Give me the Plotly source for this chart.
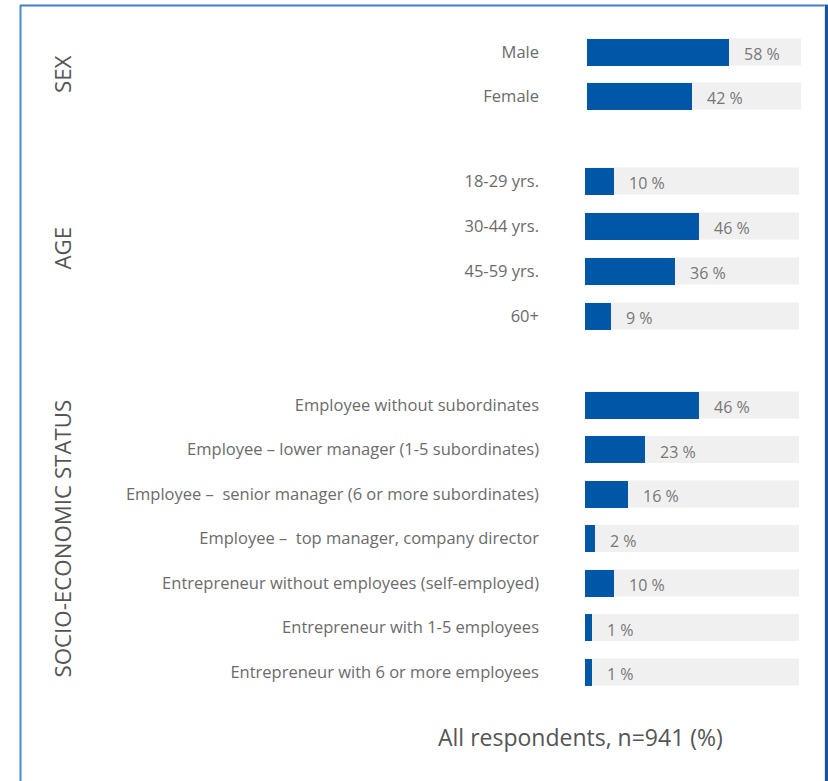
import plotly.graph_objects as go

W, H = 828, 781

sex_labels = ["Male", "Female"]
sex_values = [58, 42]

age_labels = ["18-29 yrs.", "30-44 yrs.", "45-59 yrs.", "60+"]
age_values = [10, 46, 36, 9]

status_labels = [
    "Employee without subordinates",
    "Employee – lower manager (1-5 subordinates)",
    "Employee –  senior manager (6 or more subordinates)",
    "Employee –  top manager, company director",
    "Entrepreneur without employees (self-employed)",
    "Entrepreneur with 1-5 employees",
    "Entrepreneur with 6 or more employees",
]
status_values = [46, 23, 16, 2, 10, 1, 1]

group_titles = ["SEX", "AGE", "SOCIO-ECONOMIC STATUS"]
footer_text = "All respondents, n=941 (%)"

BAR = "#0057a8"
BG = "#f0f0f0"
TXT = "#6b6b6b"
FONT = "Open Sans"
PXPER = 2.37     # pixels per percent
LEAD_PX = 5.0    # minimum visible bar stub, in pixels


def py(p):
    return 1 - p / H


def px(p):
    return p / W


groups = [
    (sex_labels, sex_values, 30, 118, 587, 801),
    (age_labels, age_values, 158.5, 338.5, 585, 799),
    (status_labels, status_values, 382.75, 694.25, 585, 799),
]

fig = go.Figure()
layout = {}
annotations = []
shapes = []
lead = LEAD_PX / PXPER

for i, (labs, vals, top, bot, xl, xr) in enumerate(groups):
    n = i + 1
    xa = "x" if n == 1 else f"x{n}"
    ya = "y" if n == 1 else f"y{n}"
    xkey = "xaxis" if n == 1 else f"xaxis{n}"
    ykey = "yaxis" if n == 1 else f"yaxis{n}"
    rowh = (bot - top) / len(labs)
    bw = 27 / rowh
    for j, lab in enumerate(labs):
        shapes.append(dict(
            type="rect", xref=f"{xa} domain", yref=ya,
            x0=0, x1=1, y0=j - bw / 2, y1=j + bw / 2,
            fillcolor=BG, line=dict(width=0), layer="below",
        ))
    fig.add_trace(go.Bar(
        x=[v + lead for v in vals], base=-lead,
        y=list(range(len(labs))), orientation="h",
        marker=dict(color=BAR, line=dict(width=0)), width=bw,
        xaxis=xa, yaxis=ya, showlegend=False, hoverinfo="skip",
    ))
    for j, v in enumerate(vals):
        annotations.append(dict(
            x=v, y=j, xref=xa, yref=ya, text=f"{v} %",
            showarrow=False, xanchor="left", yanchor="middle",
            xshift=13, yshift=-2,
            font=dict(family=FONT, size=16, color="#777777"),
        ))
    layout[xkey] = dict(domain=[px(xl), px(xr)], range=[-lead, (xr - xl) / PXPER - lead],
                        visible=False, anchor=ya, fixedrange=True)
    layout[ykey] = dict(domain=[py(bot), py(top)], range=[len(labs) - 0.5, -0.5],
                        tickmode="array", tickvals=list(range(len(labs))), ticktext=labs,
                        showgrid=False, zeroline=False, showline=False,
                        ticks="", ticklabelstandoff=round(xl - 540),
                        tickfont=dict(family=FONT, size=16.5, color=TXT),
                        anchor=xa, fixedrange=True)
    annotations.append(dict(
        x=px(62), y=py((top + bot) / 2), xref="paper", yref="paper",
        text=group_titles[i], textangle=-90, showarrow=False,
        xanchor="center", yanchor="middle",
        font=dict(family=FONT, size=22.3, color="#555555"),
    ))

annotations.append(dict(
    x=px(580), y=py(737), xref="paper", yref="paper", text=footer_text,
    showarrow=False, xanchor="center", yanchor="middle",
    font=dict(family=FONT, size=23, color="#555555"),
))

shapes += [
    dict(type="line", xref="paper", yref="paper", x0=px(20.5), x1=px(20.5), y0=0, y1=py(5),
         line=dict(color="#4a8bd0", width=2)),
    dict(type="line", xref="paper", yref="paper", x0=px(20), x1=1, y0=py(5.5), y1=py(5.5),
         line=dict(color="#3f7fc6", width=2)),
    dict(type="line", xref="paper", yref="paper", x0=px(824.5), x1=px(824.5), y0=0, y1=py(6),
         line=dict(color="#e6e6e6", width=1)),
    dict(type="line", xref="paper", yref="paper", x0=px(826.5), x1=px(826.5), y0=0, y1=py(5),
         line=dict(color="#1556a3", width=3)),
]

fig.update_layout(
    width=W, height=H, margin=dict(l=0, r=0, t=0, b=0),
    paper_bgcolor="white", plot_bgcolor="rgba(0,0,0,0)",
    annotations=annotations, shapes=shapes, bargap=0,
    **layout,
)

fig.write_html("out.html", config={"displayModeBar": False})
